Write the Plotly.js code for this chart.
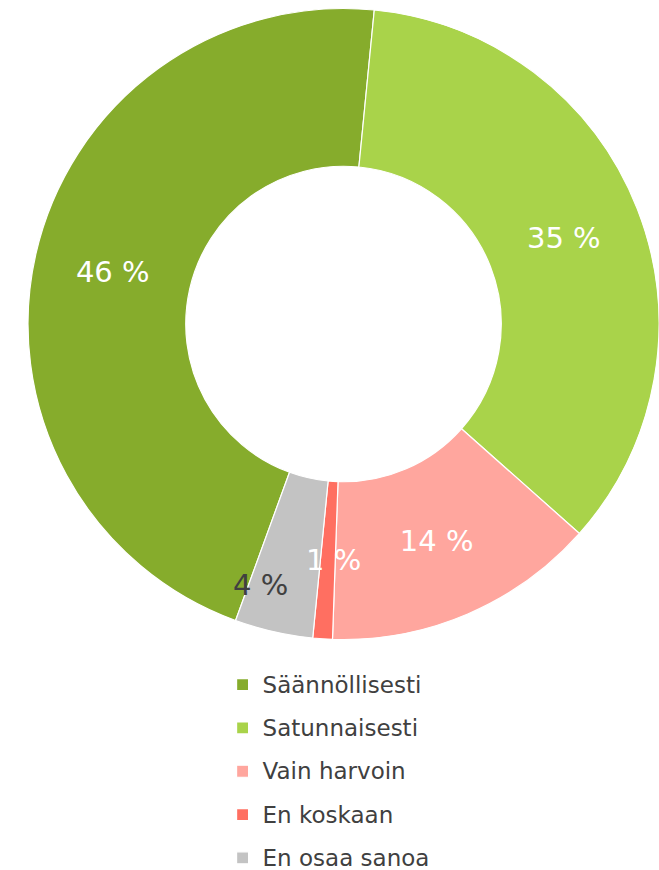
<!DOCTYPE html>
<html><head><meta charset="utf-8">
<script src="https://cdn.plot.ly/plotly-3.0.1.min.js"></script>
<style>html,body{margin:0;padding:0;background:#fff;}#chart{width:659px;height:870px;}</style>
</head><body><div id="chart"></div>
<script>
const categories = ["Säännöllisesti", "Satunnaisesti", "Vain harvoin", "En koskaan", "En osaa sanoa"];
const values = [46, 35, 14, 1, 4];
const colors = ["#86AC2C", "#A9D34A", "#FFA69E", "#FF6F61", "#C3C3C3"];
const textColors = ["#FFFFFF", "#FFFFFF", "#FFFFFF", "#FFFFFF", "#404040"];

const fontFam = "DejaVu Sans, Open Sans, sans-serif";
const W = 659, H = 870;
const domX = [28 / W, 1], domY = [1 - 640 / H, 1 - 8 / H];
const rotation = 200, hole = 0.5;
// small slices get their labels as annotations (so they keep full size, like the reference)
const smallIdx = [3, 4];
const labelShift = {3: [6, 0], 4: [-31, -30]};

const trace = {
  type: "pie",
  labels: categories.map(c => '<span style="font-size:23px;baseline-shift:4px">' + c + '</span>'),
  values: values,
  hole: hole,
  sort: false,
  direction: "clockwise",
  rotation: rotation,
  marker: {colors: colors, line: {color: "#FFFFFF", width: 1.2}},
  texttemplate: "%{value} %",
  textposition: values.map((v, i) => smallIdx.includes(i) ? "none" : "inside"),
  insidetextorientation: "horizontal",
  textfont: {family: fontFam, size: 29, color: textColors},
  hoverinfo: "label+percent",
  domain: {x: domX, y: domY}
};

// compute label positions for small slices from the data
const total = values.reduce((a, b) => a + b, 0);
const wpx = (domX[1] - domX[0]) * W, hpx = (domY[1] - domY[0]) * H;
const R = Math.min(wpx, hpx) / 2;
const cx = (domX[0] + domX[1]) / 2, cy = (domY[0] + domY[1]) / 2;
const rMid = R * (1 + hole) / 2;
let cum = 0;
const annotations = [];
values.forEach((v, i) => {
  const mid = (rotation + (cum + v / 2) / total * 360) * Math.PI / 180;
  cum += v;
  if (!smallIdx.includes(i)) return;
  annotations.push({
    xref: "paper", yref: "paper",
    x: cx + rMid * Math.sin(mid) / W,
    y: cy + rMid * Math.cos(mid) / H,
    text: v + " %", showarrow: false,
    xanchor: "center", yanchor: "middle",
    xshift: labelShift[i][0], yshift: labelShift[i][1],
    font: {family: fontFam, size: 29, color: textColors[i]}
  });
});

const layout = {
  width: W, height: H,
  margin: {l: 0, r: 0, t: 0, b: 0, autoexpand: false},
  paper_bgcolor: "#FFFFFF",
  showlegend: true,
  annotations: annotations,
  legend: {
    x: 0.4986, xanchor: "center", y: 1 - 658 / H, yanchor: "top",
    font: {family: fontFam, size: 31, color: "#404040"},
    itemclick: false
  }
};
Plotly.newPlot("chart", [trace], layout, {displayModeBar: false, staticPlot: true});
</script></body></html>
